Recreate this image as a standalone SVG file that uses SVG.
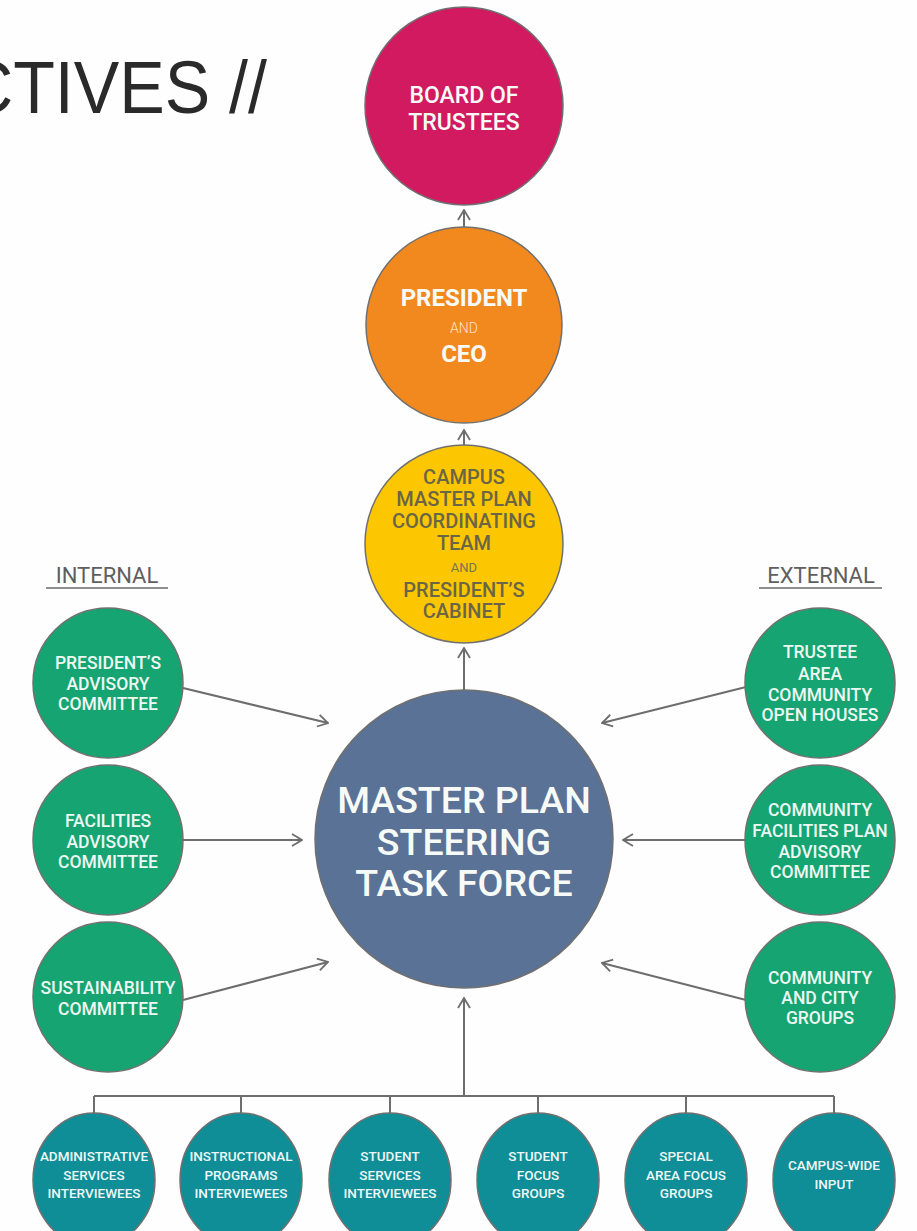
<svg xmlns="http://www.w3.org/2000/svg" width="917" height="1231" viewBox="0 0 917 1231">
<defs>
<marker id="chev" viewBox="0 0 12 14" refX="11" refY="7" markerWidth="12" markerHeight="14" markerUnits="userSpaceOnUse" orient="auto">
<path d="M1,1 L11,7 L1,13" fill="none" stroke="#6d6d6d" stroke-width="1.8"/>
</marker>
</defs>
<style>
text{font-family:Roboto,"Liberation Sans",sans-serif;text-anchor:middle}
.node{stroke:#707070;stroke-width:1.5}
.conn{stroke:#6d6d6d;stroke-width:2;fill:none}
.w{fill:#f7fbf8}
.big{font-size:23px;font-weight:500}
.yl{font-size:20px;font-weight:500;fill:#6b6548}
.gr{font-size:17.5px;font-weight:500;fill:#eef8f2}
.bt{font-size:13.5px;font-weight:500;fill:#eef8f8}
.lab{font-size:22px;fill:#5f5f5f}
</style>
<rect width="917" height="1231" fill="#fefefe"/>
<text x="-36" y="113" textLength="303" lengthAdjust="spacingAndGlyphs" style="font-family:'Liberation Sans',Arial,sans-serif;font-size:75px;fill:#2a2a2a;text-anchor:start">CTIVES //</text>

<g id="connectors">
<line class="conn" x1="464" y1="227" x2="464" y2="210" marker-end="url(#chev)"/>
<line class="conn" x1="464" y1="445" x2="464" y2="430" marker-end="url(#chev)"/>
<line class="conn" x1="464" y1="690" x2="464" y2="648" marker-end="url(#chev)"/>
<line class="conn" x1="183" y1="688" x2="328" y2="723" marker-end="url(#chev)"/>
<line class="conn" x1="183" y1="840" x2="302" y2="840" marker-end="url(#chev)"/>
<line class="conn" x1="183" y1="1000" x2="328" y2="962" marker-end="url(#chev)"/>
<line class="conn" x1="746" y1="687" x2="602" y2="723" marker-end="url(#chev)"/>
<line class="conn" x1="746" y1="840" x2="623" y2="840" marker-end="url(#chev)"/>
<line class="conn" x1="746" y1="1000" x2="602" y2="963" marker-end="url(#chev)"/>
<line class="conn" x1="464" y1="1096" x2="464" y2="998" marker-end="url(#chev)"/>
<path class="conn" d="M94,1096 H834 M94,1096 V1114 M241,1096 V1114 M390,1096 V1114 M538,1096 V1114 M686,1096 V1114 M834,1096 V1114"/>
</g>

<g id="board">
<circle class="node" cx="464" cy="106" r="99" fill="#d21a60"/>
<text class="big w" x="464" y="103">BOARD OF</text>
<text class="big w" x="464" y="130">TRUSTEES</text>
</g>

<g id="president">
<circle class="node" cx="464" cy="325" r="98" fill="#f2891f"/>
<text class="w" x="464" y="306" style="font-size:24px;font-weight:700">PRESIDENT</text>
<text x="464" y="333" style="font-size:14px;font-weight:300;fill:#fde4c8">AND</text>
<text class="w" x="464" y="362" style="font-size:24px;font-weight:700">CEO</text>
</g>

<g id="coordinating">
<circle class="node" cx="464" cy="544" r="99" fill="#fcc700"/>
<text class="yl" x="464" y="484">CAMPUS</text>
<text class="yl" x="464" y="506">MASTER PLAN</text>
<text class="yl" x="464" y="528">COORDINATING</text>
<text class="yl" x="464" y="550">TEAM</text>
<text x="464" y="572" style="font-size:13px;font-weight:400;fill:#7a7350">AND</text>
<text class="yl" x="464" y="597">PRESIDENT’S</text>
<text class="yl" x="464" y="618">CABINET</text>
</g>

<g id="steering">
<circle class="node" cx="464" cy="839" r="149" fill="#5a7296"/>
<text class="w" x="464" y="813" style="font-size:37.5px;font-weight:500">MASTER PLAN</text>
<text class="w" x="464" y="855" style="font-size:37.5px;font-weight:500">STEERING</text>
<text class="w" x="464" y="896" style="font-size:37.5px;font-weight:500">TASK FORCE</text>
</g>

<g id="internal-label">
<text class="lab" x="107" y="583">INTERNAL</text>
<line x1="46" y1="588" x2="168" y2="588" stroke="#6a6a6a" stroke-width="1.5"/>
</g>
<g id="external-label">
<text class="lab" x="821" y="583">EXTERNAL</text>
<line x1="759" y1="588" x2="882" y2="588" stroke="#6a6a6a" stroke-width="1.5"/>
</g>

<g id="presidents-advisory">
<circle class="node" cx="108" cy="683" r="75" fill="#16a572"/>
<text class="gr" x="108" y="669">PRESIDENT’S</text>
<text class="gr" x="108" y="690">ADVISORY</text>
<text class="gr" x="108" y="710">COMMITTEE</text>
</g>
<g id="facilities-advisory">
<circle class="node" cx="108" cy="840" r="75" fill="#16a572"/>
<text class="gr" x="108" y="827">FACILITIES</text>
<text class="gr" x="108" y="848">ADVISORY</text>
<text class="gr" x="108" y="868">COMMITTEE</text>
</g>
<g id="sustainability">
<circle class="node" cx="108" cy="997" r="75" fill="#16a572"/>
<text class="gr" x="108" y="994">SUSTAINABILITY</text>
<text class="gr" x="108" y="1015">COMMITTEE</text>
</g>

<g id="trustee-area">
<circle class="node" cx="820" cy="683" r="75" fill="#16a572"/>
<text class="gr" x="820" y="658">TRUSTEE</text>
<text class="gr" x="820" y="680">AREA</text>
<text class="gr" x="820" y="701">COMMUNITY</text>
<text class="gr" x="820" y="721">OPEN HOUSES</text>
</g>
<g id="community-facilities">
<circle class="node" cx="820" cy="840" r="75" fill="#16a572"/>
<text class="gr" x="820" y="816">COMMUNITY</text>
<text class="gr" x="820" y="837">FACILITIES PLAN</text>
<text class="gr" x="820" y="858">ADVISORY</text>
<text class="gr" x="820" y="878">COMMITTEE</text>
</g>
<g id="community-city">
<circle class="node" cx="820" cy="997" r="75" fill="#16a572"/>
<text class="gr" x="820" y="984">COMMUNITY</text>
<text class="gr" x="820" y="1004">AND CITY</text>
<text class="gr" x="820" y="1024">GROUPS</text>
</g>

<g id="admin-services">
<ellipse class="node" cx="94" cy="1180" rx="61" ry="67" fill="#0f8e97"/>
<text class="bt" x="94" y="1161">ADMINISTRATIVE</text>
<text class="bt" x="94" y="1180">SERVICES</text>
<text class="bt" x="94" y="1198">INTERVIEWEES</text>
</g>
<g id="instructional">
<ellipse class="node" cx="241" cy="1180" rx="61" ry="67" fill="#0f8e97"/>
<text class="bt" x="241" y="1161">INSTRUCTIONAL</text>
<text class="bt" x="241" y="1180">PROGRAMS</text>
<text class="bt" x="241" y="1198">INTERVIEWEES</text>
</g>
<g id="student-services">
<ellipse class="node" cx="390" cy="1180" rx="61" ry="67" fill="#0f8e97"/>
<text class="bt" x="390" y="1161">STUDENT</text>
<text class="bt" x="390" y="1180">SERVICES</text>
<text class="bt" x="390" y="1198">INTERVIEWEES</text>
</g>
<g id="student-focus">
<ellipse class="node" cx="538" cy="1180" rx="61" ry="67" fill="#0f8e97"/>
<text class="bt" x="538" y="1161">STUDENT</text>
<text class="bt" x="538" y="1180">FOCUS</text>
<text class="bt" x="538" y="1198">GROUPS</text>
</g>
<g id="special-area">
<ellipse class="node" cx="686" cy="1180" rx="61" ry="67" fill="#0f8e97"/>
<text class="bt" x="686" y="1161">SPECIAL</text>
<text class="bt" x="686" y="1180">AREA FOCUS</text>
<text class="bt" x="686" y="1198">GROUPS</text>
</g>
<g id="campus-wide">
<ellipse class="node" cx="834" cy="1180" rx="61" ry="67" fill="#0f8e97"/>
<text class="bt" x="834" y="1170">CAMPUS-WIDE</text>
<text class="bt" x="834" y="1189">INPUT</text>
</g>
</svg>
